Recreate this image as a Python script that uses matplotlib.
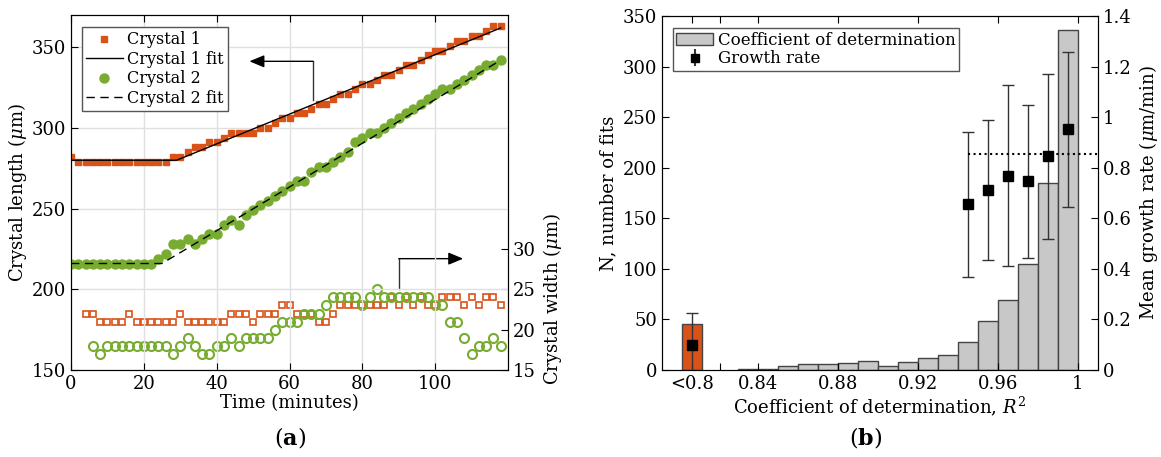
import numpy as np
import matplotlib.pyplot as plt
from matplotlib.patches import Patch

plt.rcParams['font.family'] = 'DejaVu Serif'
plt.rcParams['mathtext.fontset'] = 'dejavuserif'
plt.rcParams['font.size'] = 13

orange = '#d95319'
green = '#77ac30'

# ---- panel (a): crystal length / width vs time ----
time = np.arange(0, 120, 2)
crystal1_len = [282] + [279] * 13 + [
    282, 282, 285, 288, 288, 291, 291, 294, 297, 297, 297, 297, 300, 300, 303,
    306, 306, 309, 309, 312, 315, 315, 318, 321, 321, 324, 327, 327, 330, 333,
    333, 336, 339, 339, 342, 345, 348, 348, 351, 354, 354, 357, 357, 360, 363, 363]
crystal2_len = [216] * 12 + [
    219, 222, 228, 228, 231, 228, 231, 234, 234, 240, 243, 240, 246, 249, 252,
    255, 258, 261, 264, 267, 267, 273, 276, 276, 279, 282, 285, 291, 294, 297,
    297, 300, 303, 306, 309, 312, 315, 318, 321, 324, 324, 327, 330, 333, 336,
    339, 339, 342]
fit1_t = [0, 29, 118]
fit1_y = [280, 280, 362]
fit2_t = [0, 25, 118]
fit2_y = [216, 216, 342]

time_w1 = np.arange(4, 120, 2)
crystal1_wid = [22, 22, 21, 21, 21, 21, 22, 21, 21, 21,
                21, 21, 21, 22, 21, 21, 21, 21, 21, 21,
                22, 22, 22, 21, 22, 22, 22, 23, 23, 22,
                22, 22, 21, 21, 22, 23, 23, 23, 23, 23,
                23, 23, 24, 23, 24, 23, 24, 23, 23, 24,
                24, 24, 23, 24, 23, 24, 24, 23]
time_w2 = np.arange(6, 120, 2)
crystal2_wid = [18, 17, 18, 18, 18, 18, 18, 18, 18, 18,
                18, 17, 18, 19, 18, 17, 17, 18, 18, 19,
                18, 19, 19, 19, 19, 20, 21, 21, 21, 22,
                22, 22, 23, 24, 24, 24, 24, 23, 24, 25,
                24, 24, 24, 24, 24, 24, 24, 23, 23, 21,
                21, 19, 17, 18, 18, 19, 18]

# ---- panel (b): R^2 histogram and growth rates ----
bin_left = np.round(np.arange(0.83, 0.995, 0.01), 2)
bin_count = [1, 1, 4, 6, 6, 7, 9, 4, 8, 12, 15, 28, 48, 69, 105, 185, 336]
low_pos = 0.807
low_count = 45
low_growth = 0.10
low_err = 0.125
growth_x = [0.945, 0.955, 0.965, 0.975, 0.985, 0.995]
growth_mean = [0.655, 0.712, 0.769, 0.746, 0.845, 0.952]
growth_err = [0.287, 0.278, 0.358, 0.304, 0.327, 0.306]
overall_growth = 0.855
xtick_pos = [0.807, 0.821, 0.84, 0.88, 0.92, 0.96, 1.0]
xtick_lab = ['<0.8', '', '0.84', '0.88', '0.92', '0.96', '1']

fig = plt.figure(figsize=(11.61, 4.57), dpi=100)

# panel a
ax = fig.add_axes([71 / 1161, 87 / 457, 437 / 1161, 355 / 457])
ax2 = ax.twinx()
ax.set_zorder(ax2.get_zorder() + 1)
ax.patch.set_visible(False)

ax.plot(time, crystal1_len, 's', color=orange, ms=5, label='Crystal 1')
ax.plot(fit1_t, fit1_y, '-', color='k', lw=1, label='Crystal 1 fit')
ax.plot(time, crystal2_len, 'o', color=green, ms=6.5, label='Crystal 2')
ax.plot(fit2_t, fit2_y, '--', color='k', lw=1, dashes=(6, 4), label='Crystal 2 fit')

ax2.plot(time_w1, crystal1_wid, 's', mfc='none', mec=orange, ms=4.5, mew=1.2)
ax2.plot(time_w2, crystal2_wid, 'o', mfc='none', mec=green, ms=6.5, mew=1.5)

ax.set_xlim(0, 120)
ax.set_ylim(150, 370)
ax2.set_ylim(15, 59)
ax.set_xticks([0, 20, 40, 60, 80, 100])
ax.set_yticks([150, 200, 250, 300, 350])
ax2.set_yticks([15, 20, 25, 30])
ax.grid(True, color='#e0e0e0', lw=1)
ax.tick_params(direction='in', top=True, right=False, length=5)
ax2.tick_params(direction='in', length=5)
ax.set_xlabel('Time (minutes)', labelpad=1)
ax.set_ylabel(r'Crystal length ($\mu$m)')
ax.yaxis.set_label_coords(-0.096, 0.5)
ax2.set_ylabel(r'Crystal width ($\mu$m)')
ax2.yaxis.set_label_coords(1.075, 0.2)

# arrows pointing to the axis each group belongs to
ax.plot([66.4, 66.4], [317.5, 341.3], color='#333333', lw=1)
ax.annotate('', xy=(49, 341.3), xytext=(66.4, 341.3),
            arrowprops=dict(arrowstyle='-|>,head_length=0.6,head_width=0.25',
                            color='k', lw=1, mutation_scale=15,
                            shrinkA=0, shrinkB=0))
ax2.plot([90, 90], [25, 28.8], color='#333333', lw=1)
ax2.annotate('', xy=(107.7, 28.8), xytext=(90, 28.8),
             arrowprops=dict(arrowstyle='-|>,head_length=0.6,head_width=0.25',
                             color='k', lw=1, mutation_scale=15,
                             shrinkA=0, shrinkB=0))

ax.legend(loc='upper left', bbox_to_anchor=(0.025, 0.965), fancybox=False,
          edgecolor='#555555', framealpha=1, handlelength=2.3, fontsize=11.5,
          borderpad=0.25, labelspacing=0.15, handletextpad=0.3, borderaxespad=0)

# panel b
bx = fig.add_axes([662 / 1161, 87 / 457, 436 / 1161, 354 / 457])
bx2 = bx.twinx()

bx.bar(bin_left, bin_count, width=0.01, align='edge', color='#c8c8c8',
       edgecolor='#444444', lw=1)
bx.bar([low_pos], [low_count], width=0.01, color=orange, edgecolor='#444444', lw=1)

bx2.errorbar([low_pos] + growth_x, [low_growth] + growth_mean,
             yerr=[low_err] + growth_err, fmt='s', color='k', ms=7,
             ecolor='#333333', elinewidth=1, capsize=4, capthick=1)
bx2.plot([0.945, 1.01], [overall_growth, overall_growth], ':', color='k', lw=1.5)

bx.set_xlim(0.792, 1.01)
bx.set_ylim(0, 350)
bx2.set_ylim(0, 1.4)
bx.set_xticks(xtick_pos)
bx.set_xticklabels(xtick_lab)
bx.set_yticks(np.arange(0, 351, 50))
bx2.set_yticks(np.arange(0, 1.41, 0.2))
bx2.set_yticklabels(['0', '0.2', '0.4', '0.6', '0.8', '1', '1.2', '1.4'])
bx.tick_params(direction='in', top=True, right=False, length=5)
bx2.tick_params(direction='in', length=5)
bx.set_xlabel(r'Coefficient of determination, $R^2$', labelpad=1)
bx.set_ylabel('N, number of fits')
bx2.set_ylabel(r'Mean growth rate ($\mu$m/min)')

handles = [Patch(facecolor='#c8c8c8', edgecolor='#444444'),
           bx2.errorbar([], [], yerr=[], fmt='s', color='k', ms=6,
                        ecolor='#333333', capsize=3)]
bx2.legend(handles, ['Coefficient of determination', 'Growth rate'],
           loc='upper left', bbox_to_anchor=(0.025, 0.965), fancybox=False,
           edgecolor='#555555', framealpha=1, handlelength=2.2, fontsize=12,
           borderpad=0.2, labelspacing=0.1, handletextpad=0.3, borderaxespad=0)

fig.text(290 / 1161, 20 / 457, r'($\mathbf{a}$)', ha='center', va='center', fontsize=16)
fig.text(866 / 1161, 20 / 457, r'($\mathbf{b}$)', ha='center', va='center', fontsize=16)

fig.savefig('out.png', dpi=100)
